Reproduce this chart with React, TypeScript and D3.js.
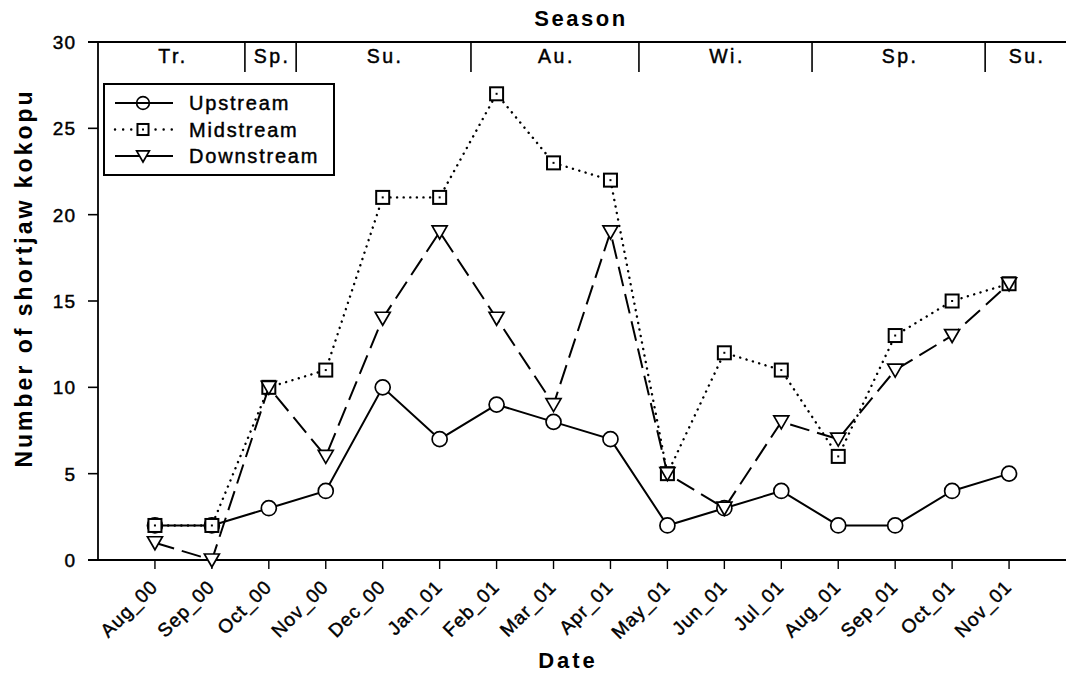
import React from 'react';
import * as d3 from 'd3';

const months = ['Aug_00', 'Sep_00', 'Oct_00', 'Nov_00', 'Dec_00', 'Jan_01', 'Feb_01', 'Mar_01',
  'Apr_01', 'May_01', 'Jun_01', 'Jul_01', 'Aug_01', 'Sep_01', 'Oct_01', 'Nov_01'];
const upstream = [2, 2, 3, 4, 10, 7, 9, 8, 7, 2, 3, 4, 2, 2, 4, 5];
const midstream = [2, 2, 10, 11, 21, 21, 27, 23, 22, 5, 12, 11, 6, 13, 15, 16];
const downstream = [1, 0, 10, 6, 14, 19, 14, 9, 19, 5, 3, 8, 7, 11, 13, 16];
const yTicks = [0, 5, 10, 15, 20, 25, 30];
// season bands, edges in month-index units
const seasonNames = ['Tr.', 'Sp.', 'Su.', 'Au.', 'Wi.', 'Sp.', 'Su.'];
const seasonEdges = [-1, 1.58, 2.48, 5.55, 8.5, 11.54, 14.58, 16];

const W = 1068, H = 677;
const left = 98, right = 1066, top = 42, bottom = 560;
const font = '"Liberation Sans", Arial, sans-serif';

const x = d3.scaleLinear().domain([-1, 16]).range([left, right]);
const y = d3.scaleLinear().domain([0, 30]).range([bottom, top]);

type Shape = 'circle' | 'square' | 'triangle';

const Marker = ({ cx, cy, shape, fill, s = 1 }: { cx: number; cy: number; shape: Shape; fill: string; s?: number }) => {
  if (shape === 'circle') return <circle cx={cx} cy={cy} r={7.5 * s} fill={fill} stroke="#000" strokeWidth={1.7} />;
  if (shape === 'square') return (
    <g>
      <rect x={cx - 6.5 * s} y={cy - 6.5 * s} width={13 * s} height={13 * s} fill={fill} stroke="#000" strokeWidth={2} />
      <rect x={cx - 1} y={cy - 1} width={2} height={2} fill="#000" />
    </g>
  );
  return <path d={`M${cx - 7.5 * s},${cy - 6 * s} L${cx + 7.5 * s},${cy - 6 * s} L${cx},${cy + 7 * s} Z`} fill={fill} stroke="#000" strokeWidth={1.7} />;
};

const series = [
  { name: 'Upstream', values: upstream, shape: 'circle' as Shape, dash: undefined, cap: 'butt' },
  { name: 'Midstream', values: midstream, shape: 'square' as Shape, dash: '0.1 6.5', cap: 'round' },
  { name: 'Downstream', values: downstream, shape: 'triangle' as Shape, dash: '20 8', cap: 'butt' },
];

const txt = { stroke: '#000', strokeWidth: 0.45 };

export default function App() {
  const line = d3.line<number>().x((_, i) => x(i)).y(d => y(d));
  return (
    <svg width={W} height={H} style={{ position: 'absolute', left: 0, top: 0, background: '#fff' }} fontFamily={font}>
      {/* axes */}
      <line x1={left} x2={left} y1={top} y2={bottom} stroke="#000" strokeWidth={1.8} />
      <line x1={88} x2={right} y1={bottom} y2={bottom} stroke="#000" strokeWidth={1.8} />
      <line x1={88} x2={right} y1={top} y2={top} stroke="#000" strokeWidth={1.8} />
      {yTicks.map(t => (
        <g key={t}>
          <line x1={88} x2={left} y1={y(t)} y2={y(t)} stroke="#000" strokeWidth={1.6} />
          <text x={76} y={y(t)} dy="0.36em" textAnchor="end" fontSize={19} letterSpacing={1} {...txt}>{t}</text>
        </g>
      ))}
      {months.map((m, i) => (
        <g key={m}>
          <line x1={x(i)} x2={x(i)} y1={bottom} y2={bottom + 9} stroke="#000" strokeWidth={1.4} />
          <text transform={`translate(${x(i) + 4},${588}) rotate(-45)`} textAnchor="end" fontSize={19} letterSpacing={1} {...txt}>{m}</text>
        </g>
      ))}
      {/* season band */}
      {seasonNames.map((s, i) => (
        <g key={i}>
          {i > 0 && <line x1={x(seasonEdges[i])} x2={x(seasonEdges[i])} y1={top} y2={top + 30} stroke="#000" strokeWidth={1.6} />}
          <text x={(x(seasonEdges[i]) + x(seasonEdges[i + 1])) / 2 + 1.5} y={top + 21} textAnchor="middle" fontSize={19.5} letterSpacing={2.5} {...txt}>{s}</text>
        </g>
      ))}
      <text x={581} y={26} textAnchor="middle" fontSize={22} letterSpacing={2.5} fontWeight="bold">Season</text>
      <text x={568} y={668} textAnchor="middle" fontSize={22} letterSpacing={3} fontWeight="bold">Date</text>
      <text transform={`translate(32,${278}) rotate(-90)`} textAnchor="middle" fontSize={23} letterSpacing={3} fontWeight="bold">Number of shortjaw kokopu</text>
      {/* series */}
      {series.map(s => (
        <g key={s.name}>
          <path d={line(s.values) ?? ''} fill="none" stroke="#000" strokeWidth={s.cap === 'round' ? 2.4 : 2}
            strokeDasharray={s.dash} strokeLinecap={s.cap as any} />
          {s.values.map((v, i) => <Marker key={i} cx={x(i)} cy={y(v)} shape={s.shape} fill="#fff" />)}
        </g>
      ))}
      {/* legend */}
      <rect x={104} y={84} width={230} height={91} fill="#fff" stroke="#000" strokeWidth={2} />
      {series.map((s, i) => {
        const ly = 103 + i * 26.5;
        return (
          <g key={s.name}>
            <line x1={115} x2={173} y1={ly} y2={ly} stroke="#000" strokeWidth={s.cap === 'round' ? 2.4 : 2}
              strokeDasharray={s.cap === 'round' ? '0.1 8' : undefined} strokeLinecap={s.cap as any} />
            <Marker cx={143} cy={ly} shape={s.shape} fill={s.shape === 'circle' ? 'none' : '#fff'} s={0.85} />
            <text x={189} y={ly} dy="0.36em" fontSize={20} letterSpacing={1.8} {...txt}>{s.name}</text>
          </g>
        );
      })}
    </svg>
  );
}
